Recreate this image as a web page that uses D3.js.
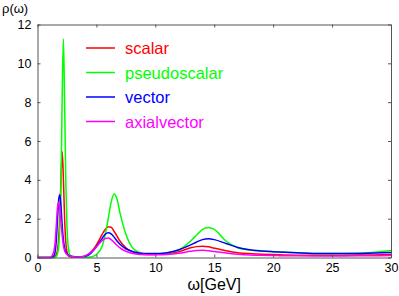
<!DOCTYPE html>
<html>
<head>
<meta charset="utf-8">
<script src="https://cdn.jsdelivr.net/npm/d3@7"></script>
<style>
  body { margin: 0; background: #fff; }
  svg text { font-family: "Liberation Sans", Arial, Helvetica, sans-serif; }
</style>
</head>
<body>
<div id="chart"></div>
<script>
// omega grid [GeV]
const omega = [0, 0.5, 1.0, 1.1, 1.2, 1.3, 1.4, 1.5, 1.6, 1.7, 1.8, 1.9, 2.0, 2.1, 2.2, 2.3, 2.4, 2.5, 2.6, 2.7, 2.8,
  3.0, 3.5, 4.0, 4.5, 5.0, 5.5, 5.75, 6.0, 6.25, 6.5, 6.75, 7.0, 7.5, 8.0, 8.5, 9, 9.5, 10,
  11, 12, 13, 13.5, 14, 14.5, 15, 16, 17, 18, 19, 20, 22, 24, 26, 28, 30];

const scalar = [0, 0, 0, 0, 0, 0, 0.01, 0.05, 0.15, 0.4, 1.0, 2.2, 4.2, 5.45, 4.0, 2.0, 0.8, 0.3, 0.12, 0.05, 0.03,
  0.01, 0.01, 0.05, 0.25, 0.65, 1.2, 1.45, 1.58, 1.56, 1.35, 1.1, 0.85, 0.5, 0.3, 0.2, 0.16, 0.15, 0.16,
  0.2, 0.3, 0.5, 0.56, 0.58, 0.55, 0.48, 0.35, 0.25, 0.2, 0.17, 0.15, 0.12, 0.12, 0.12, 0.13, 0.15];

const pseudoscalar = [0, 0, 0, 0, 0, 0, 0, 0.01, 0.05, 0.2, 0.6, 1.6, 4.0, 8.5, 11.27, 8.0, 4.0, 1.6, 0.6, 0.22, 0.08,
  0.02, 0.01, 0.01, 0.03, 0.15, 0.6, 1.2, 2.0, 2.85, 3.27, 3.0, 2.3, 1.2, 0.55, 0.3, 0.2, 0.17, 0.18,
  0.24, 0.38, 0.85, 1.15, 1.45, 1.55, 1.45, 0.85, 0.5, 0.38, 0.33, 0.3, 0.24, 0.2, 0.2, 0.24, 0.36];

const vector = [0, 0, 0, 0, 0.01, 0.03, 0.1, 0.3, 0.9, 2.0, 3.0, 3.23, 2.6, 1.6, 0.9, 0.5, 0.3, 0.2, 0.14, 0.1, 0.08,
  0.05, 0.03, 0.05, 0.2, 0.55, 1.0, 1.2, 1.28, 1.22, 1.05, 0.85, 0.68, 0.45, 0.32, 0.25, 0.21, 0.2, 0.2,
  0.25, 0.4, 0.65, 0.8, 0.92, 0.96, 0.92, 0.72, 0.52, 0.4, 0.34, 0.3, 0.24, 0.2, 0.2, 0.22, 0.26];

const axialvector = [0, 0, 0, 0.02, 0.06, 0.15, 0.35, 0.8, 1.7, 2.6, 2.84, 2.5, 1.8, 1.1, 0.6, 0.35, 0.22, 0.15, 0.1, 0.08, 0.06,
  0.04, 0.03, 0.08, 0.25, 0.55, 0.88, 0.98, 1.0, 0.92, 0.78, 0.63, 0.5, 0.32, 0.22, 0.17, 0.15, 0.14, 0.14,
  0.16, 0.22, 0.32, 0.36, 0.37, 0.35, 0.31, 0.23, 0.17, 0.13, 0.11, 0.1, 0.09, 0.08, 0.08, 0.09, 0.1];

const seriesNames = ["scalar", "pseudoscalar", "vector", "axialvector"];
const seriesColors = ["#ff0000", "#00ff00", "#0000ff", "#ff00ff"];
const seriesValues = [scalar, pseudoscalar, vector, axialvector];

const xTicks = [0, 5, 10, 15, 20, 25, 30];
const yTicks = [0, 2, 4, 6, 8, 10, 12];

const W = 399, H = 296;
const margin = { top: 24.5, right: 8, bottom: 38.5, left: 37.5 };
const width = W - margin.left - margin.right;
const height = H - margin.top - margin.bottom;

const svg = d3.select("#chart").append("svg")
  .attr("width", W)
  .attr("height", H);

const g = svg.append("g")
  .attr("transform", `translate(${margin.left},${margin.top})`);

const x = d3.scaleLinear().domain([0, 30]).range([0, width]);
const y = d3.scaleLinear().domain([0, 12]).range([height, 0]);

const axisColor = "#555";

// curves
const line = d3.line()
  .x(d => x(d[0]))
  .y(d => y(d[1]))
  .curve(d3.curveMonotoneX);

seriesValues.forEach((vals, i) => {
  g.append("path")
    .datum(omega.map((w, k) => [w, vals[k]]))
    .attr("fill", "none")
    .attr("stroke", seriesColors[i])
    .attr("stroke-width", 1.5)
    .attr("d", line);
});

// axes: ticks inward, mirrored box
const styleAxis = sel => {
  sel.select(".domain").attr("stroke", axisColor);
  sel.selectAll(".tick line").attr("stroke", axisColor);
  sel.selectAll(".tick text").attr("fill", "#000").style("font-size", "12.5px");
};

g.append("g")
  .attr("transform", `translate(0,${height})`)
  .call(d3.axisBottom(x).tickValues(xTicks).tickSizeInner(-3).tickSizeOuter(0).tickPadding(6))
  .call(styleAxis);

g.append("g")
  .call(d3.axisLeft(y).tickValues(yTicks).tickSizeInner(-3).tickSizeOuter(0).tickPadding(6))
  .call(styleAxis);

g.append("g")
  .call(d3.axisTop(x).tickValues(xTicks).tickSizeInner(-3).tickSizeOuter(0).tickFormat(""))
  .call(styleAxis);

g.append("g")
  .attr("transform", `translate(${width},0)`)
  .call(d3.axisRight(y).tickValues(yTicks).tickSizeInner(-3).tickSizeOuter(0).tickFormat(""))
  .call(styleAxis);

// axis titles
svg.append("text")
  .attr("x", 2)
  .attr("y", 13)
  .style("font-size", "13px")
  .text("ρ(ω)");

svg.append("text")
  .attr("x", margin.left + width / 2)
  .attr("y", 290)
  .attr("text-anchor", "middle")
  .style("font-size", "16px")
  .text("ω[GeV]");

// legend
const legend = g.append("g")
  .attr("transform", `translate(${86 - margin.left},${48 - margin.top})`);

seriesNames.forEach((name, i) => {
  const row = legend.append("g").attr("transform", `translate(0,${i * 24.5})`);
  row.append("line")
    .attr("x1", 0).attr("x2", 29)
    .attr("y1", 0).attr("y2", 0)
    .attr("stroke", seriesColors[i])
    .attr("stroke-width", 1.5);
  row.append("text")
    .attr("x", 39)
    .attr("y", 6)
    .attr("fill", seriesColors[i])
    .style("font-size", "16.5px")
    .text(name);
});
</script>
</body>
</html>
